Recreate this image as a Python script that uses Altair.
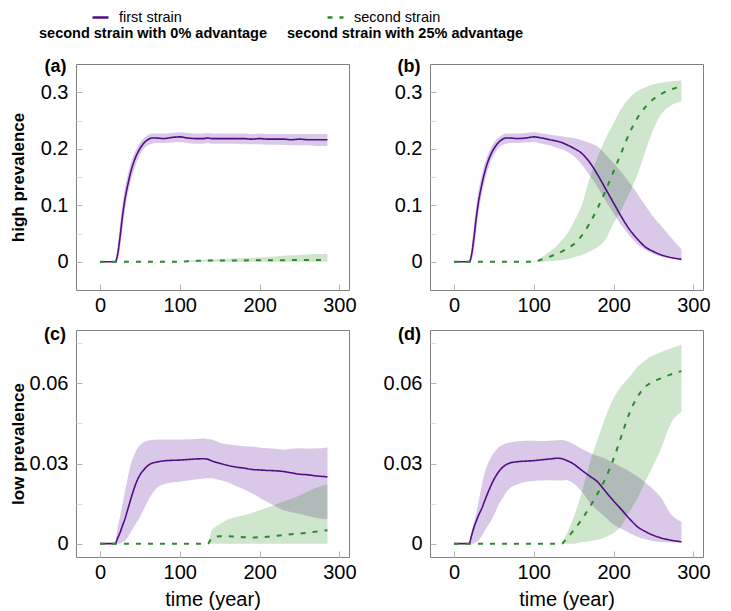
import altair as alt
import pandas as pd

# ---------------- data ----------------
T = [0, 10, 19, 22, 25, 28, 31, 35, 40, 45, 50, 55, 60, 65, 70, 80, 90, 100,
     110, 120, 130, 135, 140, 150, 160, 170, 180, 190, 200, 210, 220, 230,
     240, 250, 260, 270, 285]

# panel (a): high prevalence, 0% advantage
a_first_mean = [0, 0, 0, 0.012, 0.042, 0.078, 0.108, 0.137, 0.166, 0.186, 0.2, 0.21, 0.216,
                0.219, 0.219, 0.218, 0.22, 0.221, 0.219, 0.218, 0.218, 0.219, 0.218, 0.218,
                0.218, 0.218, 0.218, 0.217, 0.218, 0.217, 0.217, 0.217, 0.216, 0.217, 0.216,
                0.216, 0.216]
a_first_lo = [0, 0, 0, 0.002, 0.022, 0.055, 0.088, 0.12, 0.15, 0.173, 0.189, 0.2, 0.206,
              0.209, 0.21, 0.21, 0.211, 0.212, 0.21, 0.209, 0.209, 0.21, 0.209, 0.209,
              0.209, 0.209, 0.208, 0.208, 0.208, 0.207, 0.207, 0.207, 0.206, 0.206, 0.206,
              0.205, 0.205]
a_first_hi = [0, 0, 0, 0.025, 0.065, 0.1, 0.128, 0.155, 0.18, 0.198, 0.21, 0.219, 0.224,
              0.227, 0.227, 0.227, 0.228, 0.229, 0.228, 0.227, 0.227, 0.228, 0.227, 0.227,
              0.227, 0.227, 0.227, 0.226, 0.227, 0.226, 0.226, 0.226, 0.226, 0.226, 0.226,
              0.226, 0.226]
a_second_mean = [0, 0, 0, 0, 0, 0, 0, 0, 0, 0, 0, 0, 0, 0, 0, 0, 0, 0,
                 0.001, 0.0015, 0.002, 0.002, 0.002, 0.002, 0.002, 0.0022, 0.0024, 0.0025,
                 0.0025, 0.0026, 0.0027, 0.0028, 0.0029, 0.003, 0.003, 0.003, 0.003]
a_second_lo = [0, 0, 0, 0, 0, 0, 0, 0, 0, 0, 0, 0, 0, 0, 0, 0, 0, 0,
               0, 0, 0, 0, 0, 0, 0, 0, 0, 0, 0, 0, 0, 0, 0, 0, 0, 0, 0]
a_second_hi = [0, 0, 0, 0, 0, 0, 0, 0, 0, 0, 0, 0, 0, 0, 0, 0, 0, 0,
               0.002, 0.003, 0.0035, 0.004, 0.0043, 0.005, 0.0055, 0.006, 0.0065, 0.007,
               0.0075, 0.0085, 0.0095, 0.0105, 0.0115, 0.012, 0.0128, 0.0135, 0.0142]

# panel (b): high prevalence, 25% advantage
b_first_mean = [0, 0, 0, 0.012, 0.042, 0.078, 0.108, 0.137, 0.166, 0.186, 0.2, 0.21, 0.216,
                0.219, 0.219, 0.218, 0.219, 0.221, 0.219, 0.216, 0.213, 0.211, 0.208, 0.201,
                0.192, 0.176, 0.154, 0.129, 0.104, 0.079, 0.057, 0.04, 0.026, 0.018, 0.012,
                0.008, 0.0045]
b_first_lo = [0, 0, 0, 0.002, 0.022, 0.055, 0.088, 0.12, 0.15, 0.173, 0.189, 0.2, 0.206,
              0.209, 0.21, 0.21, 0.211, 0.212, 0.209, 0.206, 0.201, 0.199, 0.196, 0.187,
              0.172, 0.153, 0.132, 0.108, 0.086, 0.064, 0.046, 0.031, 0.021, 0.014, 0.009,
              0.006, 0.0025]
b_first_hi = [0, 0, 0, 0.025, 0.065, 0.1, 0.128, 0.155, 0.18, 0.198, 0.21, 0.219, 0.224,
              0.227, 0.227, 0.227, 0.228, 0.229, 0.227, 0.225, 0.223, 0.222, 0.221, 0.219,
              0.215, 0.21, 0.204, 0.19, 0.175, 0.158, 0.14, 0.12, 0.099, 0.079, 0.063,
              0.046, 0.022]
b_second_mean = [0, 0, 0, 0, 0, 0, 0, 0, 0, 0, 0, 0, 0, 0, 0, 0, 0, 0,
                 0.004, 0.009, 0.015, 0.018, 0.022, 0.031, 0.046, 0.068, 0.095, 0.126, 0.16,
                 0.194, 0.228, 0.255, 0.274, 0.288, 0.297, 0.304, 0.31]
b_second_lo = [0, 0, 0, 0, 0, 0, 0, 0, 0, 0, 0, 0, 0, 0, 0, 0, 0, 0,
               0, 0.001, 0.002, 0.003, 0.004, 0.008, 0.012, 0.018, 0.026, 0.04, 0.068,
               0.093, 0.122, 0.155, 0.196, 0.235, 0.262, 0.275, 0.284]
b_second_hi = [0, 0, 0, 0, 0, 0, 0, 0, 0, 0, 0, 0, 0, 0, 0, 0, 0, 0,
               0.008, 0.018, 0.03, 0.038, 0.046, 0.07, 0.1, 0.148, 0.185, 0.218, 0.245,
               0.272, 0.29, 0.302, 0.309, 0.314, 0.317, 0.319, 0.321]

# panel (c): low prevalence, 0% advantage
c_first_mean = [0, 0, 0, 0.002, 0.004, 0.0065, 0.009, 0.013, 0.018, 0.0225, 0.0257, 0.0277,
                0.0292, 0.0301, 0.0305, 0.031, 0.0312, 0.0313, 0.0315, 0.0317, 0.0318, 0.0316,
                0.031, 0.0301, 0.0293, 0.0287, 0.0283, 0.0278, 0.0276, 0.0274, 0.0273, 0.027,
                0.0265, 0.026, 0.0258, 0.0254, 0.025]
c_first_lo = [0, 0, 0, 0, 0, 0.0005, 0.001, 0.0025, 0.005, 0.0075, 0.01, 0.013, 0.016,
              0.0185, 0.0205, 0.0222, 0.0229, 0.0232, 0.0236, 0.024, 0.0244, 0.0245, 0.0245,
              0.0238, 0.023, 0.0216, 0.0204, 0.019, 0.0172, 0.0155, 0.014, 0.0125, 0.0118,
              0.0112, 0.0104, 0.0097, 0.0091]
c_first_hi = [0, 0, 0, 0.006, 0.01, 0.0145, 0.019, 0.025, 0.031, 0.0345, 0.0368, 0.038,
              0.0385, 0.0388, 0.0389, 0.039, 0.039, 0.039, 0.0391, 0.0392, 0.0394, 0.0392,
              0.039, 0.0378, 0.0372, 0.0368, 0.0365, 0.0364, 0.036, 0.0357, 0.0355, 0.0352,
              0.0355, 0.0357, 0.0356, 0.0356, 0.036]
c_second_mean = [0, 0, 0, 0, 0, 0, 0, 0, 0, 0, 0, 0, 0, 0, 0, 0, 0, 0, 0, 0, 0, 0,
                 0.002, 0.0028, 0.0028, 0.0026, 0.0024, 0.0023, 0.0024, 0.0026, 0.0029,
                 0.0032, 0.0035, 0.0038, 0.0041, 0.0045, 0.005]
c_second_lo = [0, 0, 0, 0, 0, 0, 0, 0, 0, 0, 0, 0, 0, 0, 0, 0, 0, 0, 0, 0, 0, 0,
               0, 0, 0, 0, 0, 0, 0, 0, 0, 0, 0, 0, 0, 0, 0]
c_second_hi = [0, 0, 0, 0, 0, 0, 0, 0, 0, 0, 0, 0, 0, 0, 0, 0, 0, 0, 0, 0, 0, 0,
               0.005, 0.0072, 0.009, 0.0099, 0.0106, 0.0115, 0.0125, 0.0135, 0.0147,
               0.0158, 0.0168, 0.018, 0.0195, 0.0208, 0.0222]

# panel (d): low prevalence, 25% advantage
d_first_mean = [0, 0, 0, 0.003, 0.006, 0.0085, 0.0107, 0.0133, 0.0172, 0.0208, 0.024, 0.0265,
                0.0283, 0.0295, 0.0302, 0.0307, 0.0309, 0.0311, 0.0314, 0.0317, 0.032, 0.0318,
                0.0313, 0.0298, 0.0275, 0.0253, 0.0231, 0.0195, 0.016, 0.0127, 0.0093, 0.0063,
                0.0045, 0.0031, 0.0021, 0.0014, 0.0007]
d_first_lo = [0, 0, 0, 0, 0, 0.0005, 0.0012, 0.003, 0.0055, 0.0078, 0.0105, 0.014, 0.0165,
              0.019, 0.0207, 0.0222, 0.0232, 0.0235, 0.0236, 0.0237, 0.0236, 0.0236, 0.0238,
              0.0225, 0.0195, 0.0155, 0.0125, 0.0098, 0.0072, 0.0055, 0.004, 0.0026, 0.0016,
              0.0009, 0.0006, 0.0005, 0.0004]
d_first_hi = [0, 0, 0, 0.0045, 0.008, 0.0115, 0.016, 0.022, 0.028, 0.0315, 0.034, 0.0358,
              0.0368, 0.0375, 0.0379, 0.0383, 0.0385, 0.0385, 0.0384, 0.0385, 0.0387, 0.0388,
              0.0385, 0.0372, 0.0355, 0.034, 0.0328, 0.0318, 0.0302, 0.0286, 0.027, 0.0251,
              0.0228, 0.0203, 0.017, 0.0118, 0.0082]
d_second_mean = [0, 0, 0, 0, 0, 0, 0, 0, 0, 0, 0, 0, 0, 0, 0, 0, 0, 0, 0, 0, 0, 0,
                 0.0015, 0.005, 0.009, 0.0137, 0.0188, 0.0245, 0.0318, 0.0405, 0.049, 0.055,
                 0.0588, 0.0607, 0.062, 0.0632, 0.0646]
d_second_lo = [0, 0, 0, 0, 0, 0, 0, 0, 0, 0, 0, 0, 0, 0, 0, 0, 0, 0, 0, 0, 0, 0,
               0, 0, 0.0005, 0.001, 0.0015, 0.0025, 0.004, 0.0068, 0.012, 0.017, 0.0235,
               0.0295, 0.036, 0.044, 0.0495]
d_second_hi = [0, 0, 0, 0, 0, 0, 0, 0, 0, 0, 0, 0, 0, 0, 0, 0, 0, 0, 0, 0, 0, 0,
               0.003, 0.01, 0.019, 0.03, 0.039, 0.0475, 0.0545, 0.059, 0.0625, 0.0662,
               0.0688, 0.0705, 0.0718, 0.073, 0.0745]

SERIES = ["first strain", "second strain"]
COL_TITLES = ["second strain with 0% advantage", "second strain with 25% advantage"]
ROW_TITLES = ["high prevalence", "low prevalence"]
PANEL_LABELS = ["(a)", "(b)", "(c)", "(d)"]
X_TITLE = "time (year)"
X_TICKS = [0, 100, 200, 300]
Y_TICKS_HIGH = [0, 0.05, 0.1, 0.15, 0.2, 0.25, 0.3]
Y_MAJOR_HIGH = [0, 0.1, 0.2, 0.3]
Y_TICKS_LOW = [0, 0.015, 0.03, 0.045, 0.06, 0.075]
Y_MAJOR_LOW = [0, 0.03, 0.06]

# ---------------- styling ----------------
PURPLE_LINE = "#520c86"
GREEN_LINE = "#2b8a2b"
PURPLE_FILL = "#8448b2"
GREEN_FILL = "#0a8200"
FONT = "Liberation Sans"
W = 273

panels = [
    ("a", a_first_mean, a_first_lo, a_first_hi, a_second_mean, a_second_lo, a_second_hi),
    ("b", b_first_mean, b_first_lo, b_first_hi, b_second_mean, b_second_lo, b_second_hi),
    ("c", c_first_mean, c_first_lo, c_first_hi, c_second_mean, c_second_lo, c_second_hi),
    ("d", d_first_mean, d_first_lo, d_first_hi, d_second_mean, d_second_lo, d_second_hi),
]
records = []
for key, fm, fl, fh, sm, sl, sh in panels:
    for i, t in enumerate(T):
        records.append(dict(panel=key, series=SERIES[0], t=t, mean=fm[i], lo=fl[i], hi=fh[i]))
        records.append(dict(panel=key, series=SERIES[1], t=t, mean=sm[i], lo=sl[i], hi=sh[i]))
df = pd.DataFrame(records)

legend = alt.Legend(
    title=None, orient="none", legendX=15, legendY=-56, direction="horizontal",
    symbolType="stroke", symbolSize=256, symbolStrokeWidth=2.5,
    labelFontSize=14.5, labelFont=FONT, labelColor="black", labelOffset=9,
    columnPadding=140, padding=0,
)

LABEL_STYLE = dict(titleFontSize=18, titleFont=FONT, titleFontWeight="bold", titleColor="black")


def make_panel(key, height, ydomain, yticks, ymajor, title, ytitle=None, xtitle=None,
               xlabel=None, ylabel=None):
    base = alt.Chart(df).transform_filter(alt.datum.panel == key)
    major = "[" + ",".join(str(v) for v in ymajor) + "]"
    xs = alt.Scale(domain=[-30, 312], nice=False, zero=False)
    ys = alt.Scale(domain=ydomain, nice=False, zero=False)

    xkw = dict(values=X_TICKS, offset=-6, tickSize=6, tickColor="#b5b5b5", labelPadding=5,
               domain=False, grid=False, labelFontSize=20, labelFont=FONT, labelColor="black",
               labelFlush=False, minExtent=31, maxExtent=31)
    if xtitle is not None:
        xkw.update(title=xtitle, titleFontSize=20, titleFont=FONT, titleFontWeight="normal",
                   titleColor="black", titlePadding=7)
    elif xlabel is not None:
        # panel letter drawn as the x-axis title, placed at the top-left corner
        xkw.update(title=xlabel, titleAngle=0, titleAlign="left", titleBaseline="alphabetic",
                   titleX=-32, titleY=7 - (height - 6), **LABEL_STYLE)
    else:
        xkw.update(title=None)
    xax = alt.Axis(**xkw)

    ykw = dict(values=yticks,
               labelExpr=f"indexof({major}, datum.value) < 0 ? '' : format(datum.value, '~g')",
               offset=-6, tickSize=6,
               tickColor={"condition": {"test": f"indexof({major}, datum.value) < 0",
                                        "value": "#dddddd"},
                          "value": "#b5b5b5"},
               labelPadding=8, domain=False, grid=False, labelFontSize=20, labelFont=FONT,
               labelColor="black", minExtent=50, maxExtent=50)
    if ytitle is not None:
        ykw.update(title=ytitle, titleFontSize=17, titleFont=FONT, titleFontWeight="bold",
                   titleColor="black", titlePadding=5)
    elif ylabel is not None:
        ykw.update(title=ylabel, titleAngle=0, titleAlign="left", titleBaseline="alphabetic",
                   titleX=-39, titleY=7, **LABEL_STYLE)
    else:
        ykw.update(title=None)
    yax = alt.Axis(**ykw)

    X = alt.X("t:Q", scale=xs, axis=xax)
    color = alt.Color("series:N", scale=alt.Scale(domain=SERIES, range=[PURPLE_LINE, GREEN_LINE]),
                      legend=legend)
    dash = alt.StrokeDash("series:N", scale=alt.Scale(domain=SERIES, range=[[1, 0], [5, 7]]),
                          legend=legend)
    first = base.transform_filter(alt.datum.series == SERIES[0])
    second = base.transform_filter(alt.datum.series == SERIES[1])

    band1 = first.mark_area(color=PURPLE_FILL, opacity=0.3, interpolate="monotone").encode(
        X, alt.Y("lo:Q", scale=ys, axis=yax), alt.Y2("hi:Q"))
    band2 = second.mark_area(color=GREEN_FILL, opacity=0.2, interpolate="monotone").encode(
        X, alt.Y("lo:Q", scale=ys, axis=yax), alt.Y2("hi:Q"))
    line1 = first.mark_line(strokeWidth=1.6, interpolate="monotone").encode(
        X, alt.Y("mean:Q", scale=ys, axis=yax), color=color, strokeDash=dash)
    line2 = second.mark_line(strokeWidth=2, interpolate="monotone").encode(
        X, alt.Y("mean:Q", scale=ys, axis=yax), color=color, strokeDash=dash)
    return alt.layer(band1, band2, line1, line2).properties(width=W, height=height, title=title)


def col_title(text, dx):
    return alt.TitleParams(text, anchor="start", frame="group", dx=dx, offset=5, fontSize=14.5,
                           fontWeight="bold", font=FONT, color="black", baseline="alphabetic")


def letter_title(text):
    return alt.TitleParams(text, anchor="start", frame="group", dx=-32, offset=-28, fontSize=18,
                           fontWeight="bold", font=FONT, color="black", baseline="alphabetic")


pa = make_panel("a", 226, [-0.05, 0.35], Y_TICKS_HIGH, Y_MAJOR_HIGH, col_title(COL_TITLES[0], -37),
                ytitle=ROW_TITLES[0], xlabel=PANEL_LABELS[0])
pb = make_panel("b", 226, [-0.05, 0.35], Y_TICKS_HIGH, Y_MAJOR_HIGH, col_title(COL_TITLES[1], -143),
                ylabel=PANEL_LABELS[1])
pc = make_panel("c", 227, [-0.005, 0.08], Y_TICKS_LOW, Y_MAJOR_LOW, letter_title(PANEL_LABELS[2]),
                ytitle=ROW_TITLES[1], xtitle=X_TITLE)
pd_ = make_panel("d", 227, [-0.005, 0.08], Y_TICKS_LOW, Y_MAJOR_LOW, letter_title(PANEL_LABELS[3]),
                 xtitle=X_TITLE)

chart = alt.concat(
    pa, pb, pc, pd_, columns=2, spacing={"row": 40, "column": 81}, bounds="flush"
).resolve_scale(
    color="shared", strokeDash="shared"
).properties(
    padding={"left": 0, "top": 0, "right": 5, "bottom": 0}
).configure(font=FONT).configure_view(stroke="#808080", strokeWidth=1)

chart.save("out.html", embed_options={"renderer": "svg", "actions": False})
